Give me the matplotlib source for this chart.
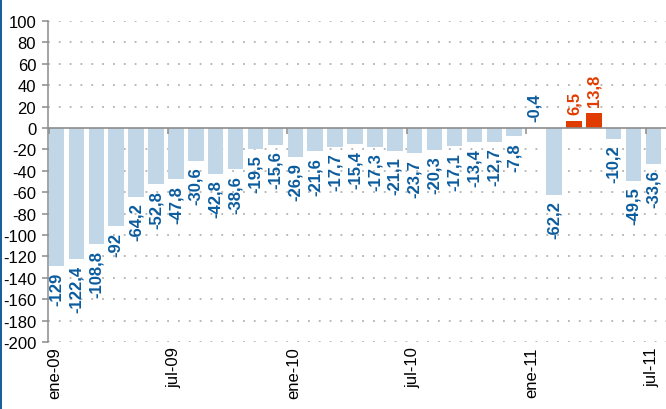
import matplotlib
matplotlib.use("Agg")
import matplotlib.pyplot as plt
from matplotlib.patches import Rectangle
import numpy as np

plt.rcParams['font.family'] = ['Liberation Sans', 'DejaVu Sans']
plt.rcParams['lines.scale_dashes'] = False

# monthly values, ene-09 .. jul-11
values = [-129, -122.4, -108.8, -92, -64.2, -52.8, -47.8, -30.6, -42.8, -38.6,
          -19.5, -15.6, -26.9, -21.6, -17.7, -15.4, -17.3, -21.1, -23.7, -20.3,
          -17.1, -13.4, -12.7, -7.8, -0.4, -62.2, 6.5, 13.8, -10.2, -49.5, -33.6]
tick_months = [0, 6, 12, 18, 24, 30]
tick_labels = ['ene-09', 'jul-09', 'ene-10', 'jul-10', 'ene-11', 'jul-11']
yticks = list(range(-200, 101, 20))

neg_color = '#c1d7e7'
pos_color = '#e03c00'
neg_text = '#0b5c9e'
axis_gray = '#8c8c8c'

fig = plt.figure(figsize=(6.66, 4.10), dpi=100)
ax = fig.add_axes([48 / 666, 1 - 343 / 410, 1 - 48 / 666, (343 - 22) / 410])

x = np.arange(len(values))
colors = [pos_color if v > 0 else neg_color for v in values]
ax.bar(x, values, width=0.78, color=colors, zorder=2)

for xi, v in zip(x, values):
    txt = f"{v:g}".replace('.', ',')
    if v > -1:
        col = pos_color if v > 0 else neg_text
        ax.annotate(txt, (xi, max(v, 0)), xytext=(0, 5), textcoords='offset points',
                    rotation=90, ha='center', va='bottom', fontsize=12,
                    fontweight='bold', color=col)
    else:
        ax.annotate(txt, (xi, v), xytext=(0, -4), textcoords='offset points',
                    rotation=90, ha='center', va='top', fontsize=12,
                    fontweight='bold', color=neg_text)

# dotted grid
for y in yticks:
    if y != 0:
        ax.axhline(y, color='#b8b8b8', lw=1.4, dashes=(1.3, 6.5), zorder=0)
ax.axhline(0, color=axis_gray, lw=1.2, zorder=3)

# small ticks on zero line at the start of each half-year
tm = np.array(tick_months)
ax.plot(tm - 0.4, np.zeros(len(tm)), ls='none', marker=3, ms=4,
        mew=1.1, color=axis_gray, zorder=3)

ax.set_xlim(-0.43, 30.63)
ax.set_ylim(-200, 100)
ax.set_yticks(yticks)
ax.set_yticklabels([str(t) for t in yticks], fontsize=12)
ax.tick_params(axis='y', length=4, width=1.1, color=axis_gray, pad=4.5)

ax.set_xticks(tm - 0.1)
ax.set_xticklabels(tick_labels, rotation=90, fontsize=12, va='top', ha='center')
ax.tick_params(axis='x', length=0, pad=3)

for s in ['top', 'right', 'bottom']:
    ax.spines[s].set_visible(False)
ax.spines['left'].set_color(axis_gray)
ax.spines['left'].set_linewidth(1.1)

fig.add_artist(Rectangle((0, 0), 2 / 666, 1, transform=fig.transFigure,
                         color='#1a5fa0', lw=0))

fig.savefig('out.png', dpi=100)
